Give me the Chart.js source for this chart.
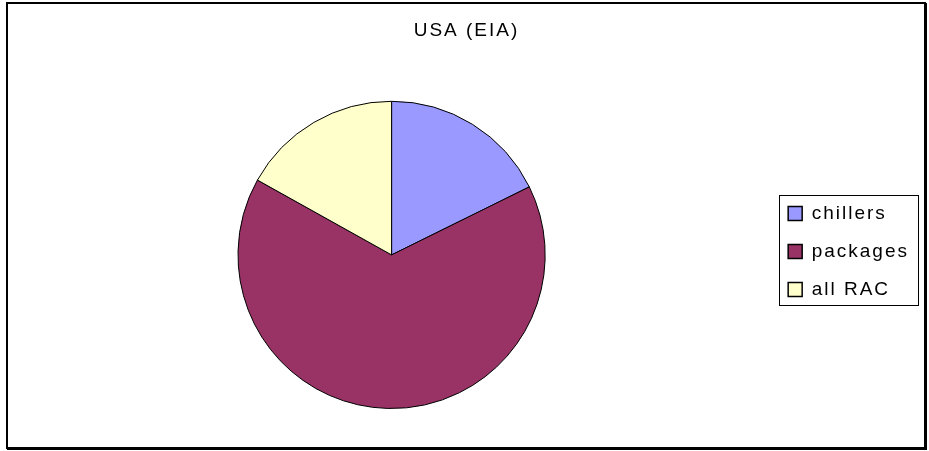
<!DOCTYPE html>
<html>
<head>
<meta charset="utf-8">
<title>USA (EIA)</title>
<script src="https://cdn.jsdelivr.net/npm/chart.js@4/dist/chart.umd.min.js"></script>
<style>
  html, body { margin: 0; padding: 0; background: #fff; }
  body { width: 929px; height: 451px; position: relative; overflow: hidden; }
  #frame {
    position: absolute; left: 6px; top: 2px;
    width: 916px; height: 443px;
    border: 2px solid #000;
    box-shadow: 1px 1px 0 #000;
  }
  #wrap { position: absolute; left: 0; top: 0; width: 929px; height: 451px; }
</style>
</head>
<body>
<div id="frame"></div>
<div id="wrap"><canvas id="eiaPie"></canvas></div>
<script>
const categories = ['chillers', 'packages', 'all RAC'];
const shares = [17.7, 65.4, 16.9];
const sliceColors = ['#9999FF', '#993366', '#FFFFCC'];

const FONT = { family: '"Liberation Sans", Arial, sans-serif', size: 19 };

// spaced-out lettering, set before layout (measuring) and before drawing
const spacing = {
  id: 'spacing',
  beforeLayout(chart) { chart.ctx.letterSpacing = '2px'; },
  beforeDraw(chart) { chart.ctx.letterSpacing = '2px'; }
};

// push the legend down so it sits level with the pie centre
const legendDrop = {
  id: 'legendDrop',
  afterLayout(chart) {
    const lg = chart.legend;
    if (!lg) return;
    lg.top += 47;
    lg.bottom += 47;
  }
};

// boxed legend
const legendFrame = {
  id: 'legendFrame',
  afterDraw(chart) {
    const boxes = chart.legend && chart.legend.legendHitBoxes;
    if (!boxes || !boxes.length) return;
    const ctx = chart.ctx;
    const left = Math.min(...boxes.map(b => b.left)) - 9;
    const right = Math.max(...boxes.map(b => b.left + b.width)) + 9;
    const top = Math.min(...boxes.map(b => b.top)) - 9;
    const bottom = Math.max(...boxes.map(b => b.top + b.height)) + 6;
    ctx.save();
    ctx.strokeStyle = '#000';
    ctx.lineWidth = 1;
    ctx.strokeRect(Math.round(left) + 0.5, Math.round(top) + 0.5, Math.round(right - left), Math.round(bottom - top));
    ctx.restore();
  }
};

new Chart(document.getElementById('eiaPie'), {
  type: 'pie',
  data: {
    labels: categories,
    datasets: [{
      data: shares,
      backgroundColor: sliceColors,
      borderColor: '#000',
      borderWidth: 1
    }]
  },
  options: {
    responsive: true,
    maintainAspectRatio: false,
    animation: false,
    layout: { padding: { left: 14, right: 10, top: 0, bottom: 42 } },
    plugins: {
      title: {
        display: true,
        text: 'USA (EIA)',
        color: '#000',
        font: { ...FONT, weight: 'normal' },
        padding: { top: 19, bottom: 59 }
      },
      legend: {
        position: 'right',
        labels: {
          color: '#000',
          font: FONT,
          boxWidth: 14,
          boxHeight: 14,
          padding: 19,
          generateLabels(chart) {
            return categories.map((c, i) => ({
              text: c,
              fillStyle: sliceColors[i],
              strokeStyle: '#000',
              lineWidth: 1.5,
              index: i,
              hidden: false
            }));
          }
        }
      },
      tooltip: { enabled: false }
    }
  },
  plugins: [spacing, legendDrop, legendFrame]
});
</script>
</body>
</html>
